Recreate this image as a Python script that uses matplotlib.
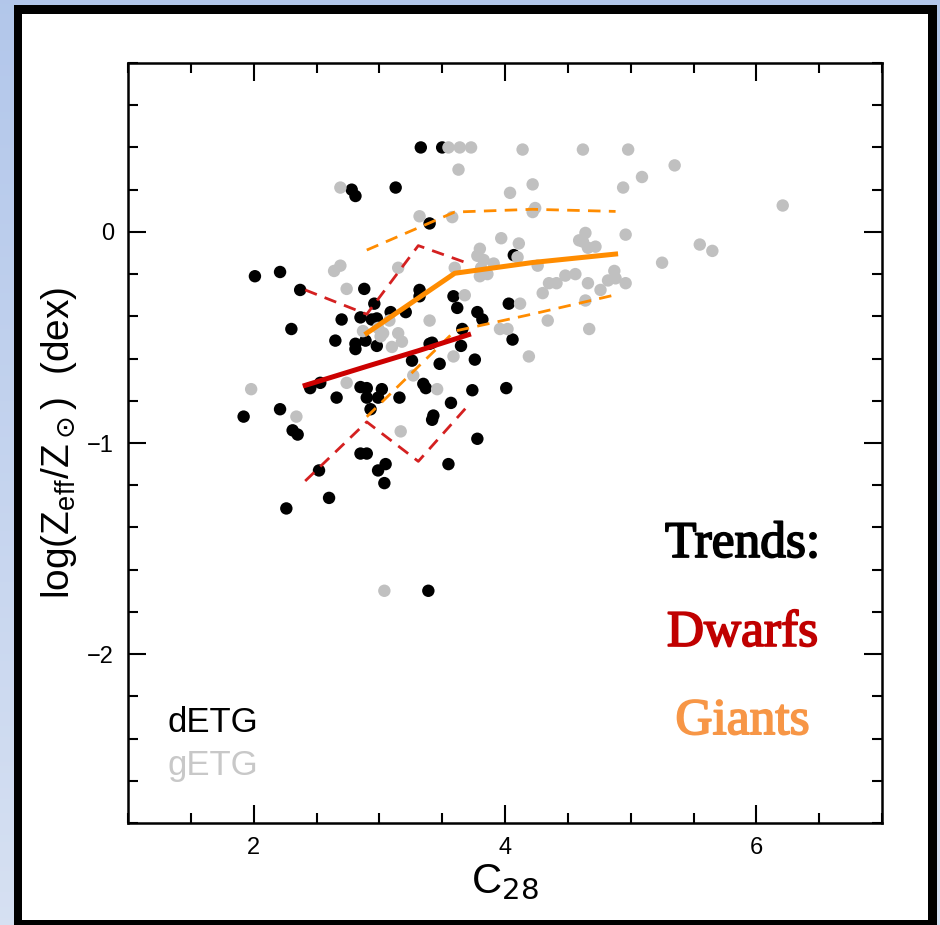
import numpy as np
import matplotlib
matplotlib.use('Agg')
import matplotlib.pyplot as plt
import matplotlib.patheffects as pe
from matplotlib.patches import Rectangle
from matplotlib.ticker import MultipleLocator

plt.rcParams['font.family'] = ['Liberation Sans', 'DejaVu Sans']
plt.rcParams['mathtext.fontset'] = 'dejavusans'

# dwarf early types (black)
dETG_C28 = [3.33, 3.50, 2.78, 2.81, 3.13, 3.40, 2.01, 2.21, 2.37, 2.30,
            2.88, 2.96, 2.85, 2.94, 2.98, 2.70, 2.65, 2.81, 2.81, 2.89,
            2.98, 3.09, 3.21, 3.32, 3.32, 3.59, 3.62, 3.78, 3.82, 4.03,
            4.06, 4.07, 3.66, 3.65, 3.40, 3.42, 3.26, 3.48, 3.76, 2.45,
            2.53, 2.85, 2.90, 3.02, 2.99, 2.90, 2.66, 3.16, 2.93, 3.35,
            3.37, 3.74, 4.01, 3.57, 1.92, 2.21, 2.31, 2.35, 3.43, 3.42,
            3.78, 2.85, 2.90, 3.05, 2.99, 3.04, 3.55, 2.52, 2.60, 2.26,
            3.39]
dETG_Z = [0.40, 0.40, 0.20, 0.17, 0.21, 0.04, -0.21, -0.19, -0.275, -0.46,
          -0.27, -0.34, -0.405, -0.415, -0.41, -0.415, -0.515, -0.53, -0.555, -0.515,
          -0.54, -0.38, -0.38, -0.275, -0.305, -0.305, -0.36, -0.38, -0.415, -0.34,
          -0.51, -0.11, -0.46, -0.54, -0.53, -0.525, -0.61, -0.625, -0.605, -0.74,
          -0.715, -0.735, -0.74, -0.745, -0.785, -0.785, -0.785, -0.785, -0.84, -0.72,
          -0.74, -0.75, -0.74, -0.81, -0.875, -0.84, -0.94, -0.96, -0.87, -0.89,
          -0.98, -1.05, -1.05, -1.10, -1.13, -1.19, -1.10, -1.13, -1.26, -1.31,
          -1.70]

# giant early types (grey)
gETG_C28 = [2.69, 3.55, 3.64, 3.73, 3.63, 4.04, 3.32, 3.58, 2.64, 2.69,
            2.74, 3.15, 3.80, 3.78, 3.83, 3.81, 3.80, 3.86, 3.91, 3.97,
            4.11, 3.68, 3.40, 2.87, 2.99, 3.03, 3.01, 3.08, 3.15, 3.18,
            3.10, 3.59, 2.74, 1.98, 3.27, 3.46, 2.34, 3.17, 4.14, 4.62,
            4.98, 5.35, 5.09, 4.94, 4.22, 6.21, 4.22, 4.24, 4.64, 4.59,
            4.66, 4.72, 4.62, 4.96, 5.55, 5.65, 5.25, 4.26, 4.10, 3.60,
            4.48, 4.56, 4.41, 4.35, 4.66, 4.87, 4.88, 4.82, 4.96, 4.76,
            4.30, 4.12, 4.64, 4.34, 4.67, 3.96, 4.02, 4.19, 3.04]
gETG_Z = [0.21, 0.40, 0.40, 0.40, 0.295, 0.185, 0.074, 0.07, -0.185, -0.16,
          -0.27, -0.17, -0.08, -0.113, -0.133, -0.17, -0.21, -0.20, -0.15, -0.03,
          -0.055, -0.30, -0.42, -0.47, -0.455, -0.48, -0.495, -0.42, -0.48, -0.52,
          -0.545, -0.59, -0.715, -0.745, -0.68, -0.745, -0.875, -0.945, 0.39, 0.39,
          0.39, 0.315, 0.26, 0.21, 0.225, 0.125, 0.094, 0.113, -0.005, -0.04,
          -0.075, -0.07, -0.046, -0.013, -0.06, -0.09, -0.146, -0.16, -0.12, -0.17,
          -0.207, -0.20, -0.243, -0.243, -0.243, -0.185, -0.22, -0.23, -0.243, -0.275,
          -0.29, -0.34, -0.325, -0.42, -0.46, -0.46, -0.46, -0.59, -1.70]

# running trends: median and scatter envelopes
dw_C28 = [2.41, 2.90, 3.31, 3.71]
dw_mid = [-0.727, -0.637, -0.563, -0.487]
dw_hi = [-0.275, -0.39, -0.065, -0.15]
dw_lo = [-1.18, -0.90, -1.087, -0.82]

gi_C28 = [2.90, 3.60, 4.22, 4.88]
gi_mid = [-0.48, -0.196, -0.145, -0.105]
gi_hi = [-0.086, 0.094, 0.107, 0.097]
gi_lo = [-0.876, -0.47, -0.389, -0.298]

fig = plt.figure(figsize=(9.4, 9.25), dpi=100)

# slide-like backdrop: blue gradient, black frame, white panel
bg = fig.add_axes([0, 0, 1, 1])
grad = np.linspace(0, 1, 256).reshape(-1, 1)
c_top = np.array([0.70, 0.78, 0.92])
c_bot = np.array([0.84, 0.88, 0.95])
img = c_top[None, None, :] * (1 - grad[:, :, None]) + c_bot[None, None, :] * grad[:, :, None]
bg.imshow(img, extent=[0, 940, 925, 0], aspect='auto')
bg.add_patch(Rectangle((14, 5), 923, 925, facecolor='black', edgecolor='none'))
bg.add_patch(Rectangle((22, 14), 906, 906, facecolor='white', edgecolor='none'))
bg.set_xlim(0, 940); bg.set_ylim(925, 0)
bg.axis('off')

ax = fig.add_axes([128/940, 102/925, 754/940, 760/925])
ax.scatter(dETG_C28, dETG_Z, s=80, c='black', edgecolors='none', zorder=2)
ax.scatter(gETG_C28, gETG_Z, s=80, c='#c0c0c0', edgecolors='none', zorder=2)

ax.plot(dw_C28, dw_mid, '-', color='#cc0000', lw=3.6, zorder=4)
ax.plot(dw_C28, dw_hi, '--', color='#d42020', lw=2, dashes=(4.5, 3), zorder=3)
ax.plot(dw_C28, dw_lo, '--', color='#d42020', lw=2, dashes=(4.5, 3), zorder=3)
ax.plot(gi_C28, gi_mid, '-', color='#ff8c00', lw=3.6, zorder=4)
ax.plot(gi_C28, gi_hi, '--', color='#ff8c00', lw=2, dashes=(4.5, 3), zorder=3)
ax.plot(gi_C28, gi_lo, '--', color='#ff8c00', lw=2, dashes=(4.5, 3), zorder=3)

ax.set_xlim(1, 7)
ax.set_ylim(-2.8, 0.8)
ax.xaxis.set_major_locator(MultipleLocator(2))
ax.xaxis.set_minor_locator(MultipleLocator(0.5))
ax.yaxis.set_major_locator(MultipleLocator(1))
ax.yaxis.set_minor_locator(MultipleLocator(0.2))
ax.tick_params(which='both', direction='in', top=True, right=True, width=1.5)
ax.tick_params(which='major', length=13, pad=10, labelsize=17)
ax.tick_params(which='minor', length=7)
for sp in ax.spines.values():
    sp.set_linewidth(1.8)

ax.set_xlabel(r'C$_{28}$', fontsize=30, labelpad=2)
ax.set_ylabel(r'log(Z$_\mathregular{eff}$/Z$_\odot$)  (dex)', fontsize=28, labelpad=6)

ax.text(0.052, 0.12, 'dETG', color='black', fontsize=25, transform=ax.transAxes)
ax.text(0.052, 0.063, 'gETG', color='#c8c8c8', fontsize=25, transform=ax.transAxes)

# trend key, regular serif thickened a little with a matching stroke
for label, col, yy in [('Trends:', 'black', 0.35), ('Dwarfs', '#c00000', 0.233),
                       ('Giants', '#f79646', 0.117)]:
    ax.text(0.815, yy, label, color=col, fontsize=37, ha='center',
            family='Liberation Serif', transform=ax.transAxes,
            path_effects=[pe.withStroke(linewidth=1.3, foreground=col)])

fig.savefig('out.png', dpi=100)
